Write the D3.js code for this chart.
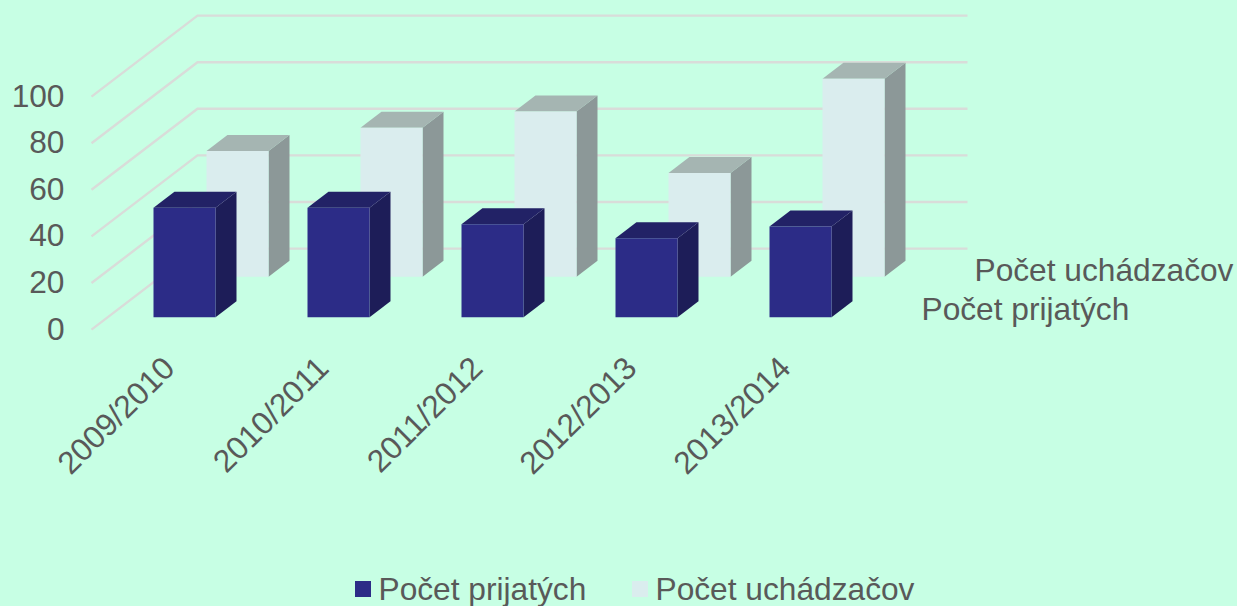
<!DOCTYPE html>
<html><head><meta charset="utf-8">
<script src="https://cdn.jsdelivr.net/npm/d3@7"></script>
<style>html,body{margin:0;padding:0;background:#c7ffe4;overflow:hidden}svg{display:block}text{font-family:"Liberation Sans",Arial,sans-serif;fill:#595959}</style>
</head><body><svg id="c" width="1237" height="606"></svg>
<script>
const categories = ["2009/2010","2010/2011","2011/2012","2012/2013","2013/2014"];
const seriesNames = ["Počet prijatých","Počet uchádzačov"];
const prijatych = [47,47,40,34,39];
const uchadzacov = [54,64,71,44.6,85];
const yTicks = [0,20,40,60,80,100];
const seriesValues = [prijatych, uchadzacov];
const faceColors = [["#2c2c87","#222266","#1d1d58"],["#daedee","#a5b5b2","#8c9898"]];

const svg = d3.select("#c");
const fs = 31.7;
const x0 = 91.5, x1 = 861.5, y0 = 329.6, y100 = 96.6, depthDx = 106, depthDy = 81;
const x = d3.scaleBand().domain(categories).range([x0,x1]).paddingInner(.597).paddingOuter(.2985);
const y = d3.scaleLinear().domain([0,100]).range([0,y0-y100]);
const z = d3.scaleBand().domain(seriesNames).range([0,1]).paddingInner(.605).paddingOuter(.3025);
// oblique projection: (plane x, value height, depth 0..1) -> screen
const px = (a,d)=>a+d*depthDx;
const py = (h,d)=>y0-h-d*depthDy;
const pt = (a,h,d)=>[px(a,d),py(h,d)];
const poly = pts=>"M"+pts.map(p=>p.join(",")).join("L")+"Z";

const grid = svg.append("g");
yTicks.forEach(t=>{
  grid.append("path").attr("fill","none").attr("stroke","#d9dcd9").attr("stroke-width",2.4)
    .attr("d",d3.line()([pt(x0,y(t),0),pt(x0,y(t),1),pt(x1,y(t),1)]));
  svg.append("text").attr("x",64.5).attr("y",py(y(t),0)-1.5).attr("dy","0.36em")
    .attr("text-anchor","end").attr("font-size",fs).text(t);
});
// back series first
[1,0].forEach(s=>{
  const name = seriesNames[s], c = faceColors[s];
  const d0 = z(name), d1 = d0+z.bandwidth();
  const g = svg.append("g");
  categories.forEach((cat,i)=>{
    const l = x(cat), r = l+x.bandwidth(), h = y(seriesValues[s][i]);
    g.append("path").attr("fill",c[2]).attr("d",poly([pt(r,0,d0),pt(r,0,d1),pt(r,h,d1),pt(r,h,d0)]));
    g.append("path").attr("fill",c[1]).attr("d",poly([pt(l,h,d0),pt(r,h,d0),pt(r,h,d1),pt(l,h,d1)]));
    g.append("path").attr("fill",c[0]).attr("d",poly([pt(l,0,d0),pt(r,0,d0),pt(r,h,d0),pt(l,h,d0)]));
  });
});
categories.forEach(cat=>{
  const ax = x(cat)+x.bandwidth()/2, ay = 362;
  svg.append("text").attr("transform",`translate(${ax},${ay}) rotate(-45)`)
    .attr("text-anchor","end").attr("dy","0.36em").attr("font-size",fs).text(cat);
});
// series labels on the depth axis
[[seriesNames[0],921.5,319.5],[seriesNames[1],974.5,280.5]].forEach(([t,a,b])=>{
  svg.append("text").attr("x",a).attr("y",b).attr("font-size",fs).text(t);
});
// legend
[[0,355,378.5],[1,632,655.5]].forEach(([s,a,b])=>{
  svg.append("rect").attr("x",a).attr("y",581).attr("width",16).attr("height",16).attr("fill",faceColors[s][0]);
  svg.append("text").attr("x",b).attr("y",600).attr("font-size",fs).text(seriesNames[s]);
});
</script></body></html>
